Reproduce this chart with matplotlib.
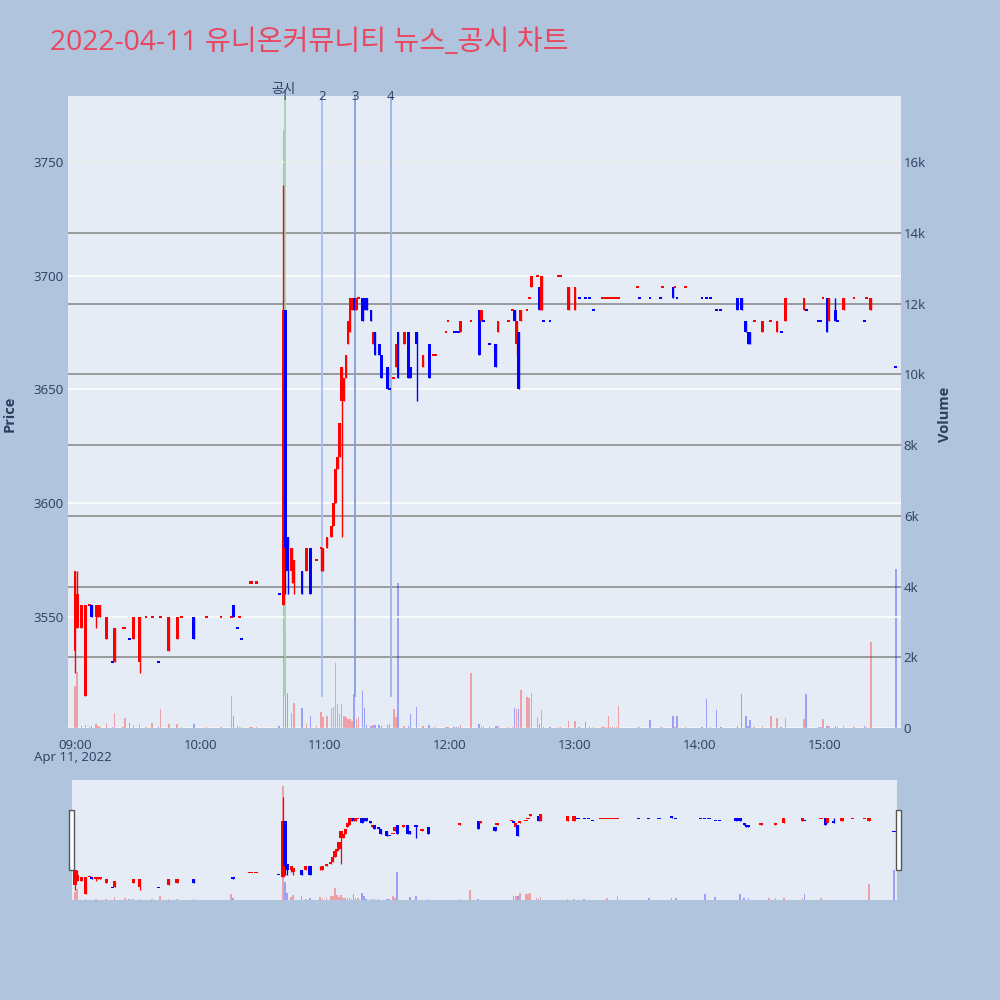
import matplotlib
matplotlib.use("Agg")
import matplotlib.pyplot as plt
from matplotlib.patches import Rectangle
import numpy as np

plt.rcParams["font.family"] = ["Open Sans", "Noto Sans CJK KR", "DejaVu Sans"]

# minute candles, 2022-04-11
times = ["09:00", "09:01", "09:03", "09:05", "09:07", "09:08", "09:10", "09:11", "09:12", "09:15",
         "09:18", "09:19", "09:23", "09:24", "09:26", "09:28", "09:31", "09:34", "09:37", "09:40",
         "09:41", "09:45", "09:49", "09:51", "09:57", "10:03", "10:10", "10:15", "10:16", "10:18",
         "10:19", "10:20", "10:24", "10:25", "10:27", "10:38", "10:40", "10:41", "10:42", "10:44",
         "10:45", "10:49", "10:51", "10:53", "10:56", "10:58", "10:59", "11:01", "11:03", "11:04",
         "11:05", "11:06", "11:07", "11:08", "11:09", "11:10", "11:11", "11:12", "11:13", "11:14",
         "11:15", "11:16", "11:18", "11:19", "11:20", "11:22", "11:23", "11:24", "11:26", "11:27",
         "11:30", "11:31", "11:33", "11:34", "11:35", "11:38", "11:40", "11:41", "11:44", "11:47",
         "11:50", "11:52", "11:53", "11:58", "11:59", "12:02", "12:03", "12:04", "12:05", "12:10",
         "12:14", "12:15", "12:16", "12:19", "12:22", "12:23", "12:28", "12:30", "12:31", "12:32",
         "12:33", "12:34", "12:37", "12:38", "12:39", "12:42", "12:43", "12:44", "12:45", "12:48",
         "12:52", "12:53", "12:57", "13:00", "13:02", "13:05", "13:07", "13:09", "13:13", "13:14",
         "13:15", "13:16", "13:17", "13:18", "13:19", "13:20", "13:21", "13:30", "13:31", "13:36",
         "13:41", "13:42", "13:47", "13:48", "13:49", "13:53", "14:01", "14:03", "14:05", "14:08",
         "14:10", "14:18", "14:20", "14:22", "14:23", "14:24", "14:26", "14:30", "14:34", "14:37",
         "14:39", "14:41", "14:50", "14:51", "14:57", "14:58", "14:59", "15:01", "15:02", "15:05",
         "15:06", "15:09", "15:14", "15:19", "15:20", "15:22", "15:34"]
opens = [3535, 3545, 3545, 3515, 3555, 3555, 3550, 3550, 3550, 3540,
         3530, 3530, 3545, 3545, 3540, 3540, 3530, 3550, 3550, 3530,
         3550, 3535, 3540, 3550, 3550, 3550, 3550, 3550, 3555, 3545,
         3550, 3540, 3565, 3565, 3565, 3560, 3555, 3685, 3585, 3570,
         3565, 3570, 3570, 3580, 3575, 3580, 3570, 3580, 3585, 3590,
         3600, 3615, 3620, 3645, 3645, 3655, 3670, 3675, 3685, 3690,
         3685, 3690, 3690, 3690, 3690, 3685, 3670, 3675, 3670, 3665,
         3660, 3650, 3655, 3660, 3675, 3670, 3675, 3660, 3675, 3660,
         3670, 3665, 3665, 3675, 3680, 3675, 3675, 3675, 3675, 3680,
         3685, 3680, 3680, 3670, 3670, 3675, 3680, 3685, 3685, 3670,
         3675, 3680, 3685, 3690, 3695, 3700, 3695, 3685, 3680, 3680,
         3700, 3700, 3685, 3685, 3690, 3690, 3690, 3685, 3690, 3690,
         3690, 3690, 3690, 3690, 3690, 3690, 3690, 3695, 3690, 3690,
         3690, 3695, 3695, 3695, 3690, 3695, 3690, 3690, 3690, 3685,
         3685, 3690, 3690, 3680, 3675, 3675, 3680, 3675, 3680, 3675,
         3675, 3680, 3685, 3685, 3680, 3680, 3690, 3690, 3680, 3685,
         3680, 3685, 3690, 3680, 3690, 3685, 3660]
highs = [3570, 3570, 3555, 3555, 3555, 3555, 3555, 3555, 3555, 3550,
         3530, 3545, 3545, 3545, 3540, 3550, 3550, 3550, 3550, 3530,
         3550, 3550, 3550, 3550, 3550, 3550, 3550, 3550, 3555, 3545,
         3550, 3540, 3565, 3565, 3565, 3560, 3740, 3685, 3585, 3580,
         3575, 3570, 3580, 3580, 3575, 3580, 3580, 3585, 3590, 3600,
         3615, 3620, 3635, 3660, 3655, 3665, 3680, 3690, 3690, 3690,
         3690, 3690, 3690, 3690, 3690, 3685, 3675, 3675, 3670, 3665,
         3660, 3650, 3655, 3670, 3675, 3675, 3675, 3660, 3675, 3665,
         3670, 3665, 3665, 3675, 3680, 3675, 3675, 3675, 3680, 3680,
         3685, 3685, 3680, 3670, 3670, 3680, 3680, 3685, 3685, 3680,
         3675, 3685, 3685, 3690, 3700, 3700, 3695, 3700, 3680, 3680,
         3700, 3700, 3695, 3695, 3690, 3690, 3690, 3685, 3690, 3690,
         3690, 3690, 3690, 3690, 3690, 3690, 3690, 3695, 3690, 3690,
         3690, 3695, 3695, 3695, 3690, 3695, 3690, 3690, 3690, 3685,
         3685, 3690, 3690, 3680, 3675, 3675, 3680, 3680, 3680, 3680,
         3675, 3690, 3690, 3685, 3680, 3680, 3690, 3690, 3690, 3690,
         3680, 3690, 3690, 3680, 3690, 3690, 3660]
lows = [3525, 3545, 3545, 3515, 3555, 3550, 3545, 3550, 3550, 3540,
        3530, 3530, 3545, 3545, 3540, 3540, 3525, 3550, 3550, 3530,
        3550, 3535, 3540, 3550, 3540, 3550, 3550, 3550, 3550, 3545,
        3550, 3540, 3565, 3565, 3565, 3560, 3555, 3560, 3560, 3565,
        3560, 3560, 3570, 3560, 3575, 3570, 3570, 3580, 3585, 3590,
        3600, 3615, 3620, 3585, 3645, 3655, 3670, 3675, 3685, 3685,
        3685, 3690, 3680, 3685, 3685, 3680, 3670, 3665, 3665, 3655,
        3650, 3650, 3655, 3660, 3655, 3670, 3655, 3655, 3645, 3660,
        3655, 3665, 3665, 3675, 3680, 3675, 3675, 3675, 3675, 3680,
        3665, 3680, 3680, 3670, 3660, 3675, 3680, 3685, 3680, 3665,
        3650, 3680, 3685, 3690, 3695, 3700, 3685, 3685, 3680, 3680,
        3700, 3700, 3685, 3685, 3690, 3690, 3690, 3685, 3690, 3690,
        3690, 3690, 3690, 3690, 3690, 3690, 3690, 3695, 3690, 3690,
        3690, 3695, 3690, 3695, 3690, 3695, 3690, 3690, 3690, 3685,
        3685, 3685, 3685, 3675, 3670, 3670, 3680, 3675, 3680, 3675,
        3675, 3680, 3685, 3685, 3680, 3680, 3690, 3675, 3680, 3680,
        3680, 3685, 3690, 3680, 3690, 3685, 3660]
closes = [3570, 3560, 3555, 3555, 3555, 3550, 3555, 3555, 3555, 3550,
          3530, 3545, 3545, 3545, 3540, 3550, 3550, 3550, 3550, 3530,
          3550, 3550, 3550, 3550, 3540, 3550, 3550, 3550, 3550, 3545,
          3550, 3540, 3565, 3565, 3565, 3560, 3685, 3580, 3570, 3580,
          3575, 3560, 3580, 3560, 3575, 3580, 3580, 3585, 3590, 3600,
          3615, 3620, 3635, 3660, 3655, 3665, 3680, 3690, 3690, 3685,
          3690, 3690, 3680, 3685, 3685, 3680, 3675, 3665, 3665, 3655,
          3650, 3650, 3655, 3670, 3655, 3675, 3655, 3655, 3670, 3665,
          3655, 3665, 3665, 3675, 3680, 3675, 3675, 3675, 3680, 3680,
          3665, 3685, 3680, 3670, 3660, 3680, 3680, 3685, 3680, 3680,
          3650, 3685, 3685, 3690, 3700, 3700, 3685, 3700, 3680, 3680,
          3700, 3700, 3695, 3695, 3690, 3690, 3690, 3685, 3690, 3690,
          3690, 3690, 3690, 3690, 3690, 3690, 3690, 3695, 3690, 3690,
          3690, 3695, 3690, 3695, 3690, 3695, 3690, 3690, 3690, 3685,
          3685, 3685, 3685, 3675, 3670, 3670, 3680, 3680, 3680, 3680,
          3675, 3690, 3690, 3685, 3680, 3680, 3690, 3675, 3690, 3680,
          3680, 3690, 3690, 3680, 3690, 3690, 3660]
volumes = [1190, 1580, 60, 80, 30, 50, 100, 60, 40, 140,
           40, 430, 30, 280, 150, 90, 100, 40, 130, 20,
           530, 120, 100, 30, 120, 30, 40, 900, 350, 50,
           30, 40, 30, 30, 30, 60, 16900, 2700, 1000, 420,
           700, 560, 120, 350, 60, 450, 300, 350, 560, 580,
           1830, 680, 400, 680, 350, 300, 250, 250, 200, 960,
           250, 300, 1050, 560, 80, 50, 80, 90, 80, 70,
           90, 100, 530, 300, 4100, 60, 50, 400, 580, 60,
           90, 30, 30, 40, 30, 40, 30, 30, 80, 1550,
           120, 60, 30, 30, 60, 50, 40, 30, 560, 530,
           530, 1070, 880, 850, 1000, 300, 100, 500, 40, 30,
           40, 30, 200, 200, 30, 180, 30, 40, 30, 30,
           30, 330, 30, 30, 30, 30, 620, 30, 30, 230,
           30, 30, 330, 30, 330, 30, 30, 820, 30, 500,
           30, 60, 960, 330, 60, 240, 30, 50, 330, 280,
           30, 280, 260, 960, 30, 30, 260, 60, 50, 50,
           30, 60, 30, 50, 30, 2430, 4500]

notice_times = ["10:40", "10:58", "11:14", "11:31"]
notice_labels = ["1", "2", "3", "4"]
notice_colors = ["#9fd6a8", "#a9bcf4", "#8a9ed9", "#9cb0ea"]

minutes = np.array([int(t[:2]) * 60 + int(t[3:]) - 540 for t in times], dtype=float)
o = np.array(opens, float)
h = np.array(highs, float)
l = np.array(lows, float)
c = np.array(closes, float)
v = np.array(volumes, float)

# red = up, blue = down; flat candle keeps direction vs previous close
up = []
prev_c, prev_up = None, True
for oo, cc in zip(o, c):
    if cc > oo:
        u = True
    elif cc < oo:
        u = False
    elif prev_c is None or cc == prev_c:
        u = prev_up
    else:
        u = cc > prev_c
    up.append(u)
    prev_c, prev_up = cc, u
up = np.array(up)
cols = np.where(up, "#ff0000", "#0000ff")

notice_min = [int(t[:2]) * 60 + int(t[3:]) - 540 + 0.6 for t in notice_times]

BG = "#e5ecf6"
PAPER = "#b0c4de"
TXT = "#2a3f5f"
PRICE_LIM = (3501, 3779)
VOL_LIM = (0, 17866)


def draw(ax_vol, ax_p, body_w=1.3, wick_lw=1.0, vol_w=0.7):
    ax_vol.bar(minutes, v, width=vol_w, color=cols, alpha=0.32, linewidth=0, zorder=2)
    ax_p.vlines(minutes, l, h, colors=cols, linewidth=wick_lw, zorder=4)
    bh = np.maximum(np.abs(c - o), 0.9)
    bb = np.where(np.abs(c - o) > 0, np.minimum(o, c), o - 0.45)
    ax_p.bar(minutes, bh, bottom=bb, width=body_w, color=cols, linewidth=0, zorder=5)


fig = plt.figure(figsize=(10, 10), dpi=100)
fig.patch.set_facecolor(PAPER)

# main panel
ax_vol = fig.add_axes([0.068, 0.272, 0.833, 0.632])
ax_vol.set_facecolor(BG)
ax_p = ax_vol.twinx()
draw(ax_vol, ax_p)

ax_vol.set_xlim(-3.4, 396.5)
ax_vol.set_ylim(*VOL_LIM)
ax_p.set_ylim(*PRICE_LIM)

for s in list(ax_vol.spines.values()) + list(ax_p.spines.values()):
    s.set_visible(False)

ax_vol.yaxis.tick_right()
ax_vol.set_yticks(np.arange(0, 16001, 2000))
ax_vol.set_yticklabels(["0"] + ["%dk" % k for k in range(2, 17, 2)])
ax_vol.grid(axis="y", color="#8c8c8c", linewidth=1.2)
ax_vol.set_axisbelow(True)
ax_vol.axhline(0, color="white", linewidth=2, zorder=1)

ax_p.yaxis.tick_left()
ax_p.set_yticks([3550, 3600, 3650, 3700, 3750])
ax_p.grid(axis="y", color="white", linewidth=1.2, zorder=0)

ax_vol.set_xticks(np.arange(0, 361, 60))
ax_vol.set_xticklabels(["%02d:00" % hh for hh in range(9, 16)])
ax_vol.grid(axis="x", visible=False)

for a in (ax_vol, ax_p):
    a.tick_params(length=0, labelsize=9.5, labelcolor=TXT)
ax_vol.tick_params(axis="x", pad=8)
ax_vol.tick_params(axis="y", pad=2)
ax_p.tick_params(axis="y", pad=3)

fig.text(0.010, 0.586, "Price", rotation=90, ha="center", va="center",
         fontsize=10.5, fontweight="bold", color=TXT)
fig.text(0.945, 0.586, "Volume", rotation=90, ha="center", va="center",
         fontsize=10.5, fontweight="bold", color=TXT)

fig.text(0.073, 1 - 0.757, "Apr 11, 2022", ha="center", va="center", fontsize=9.5, color=TXT)

# disclosure markers
span = PRICE_LIM[1] - PRICE_LIM[0]
for m, lab, col in zip(notice_min, notice_labels, notice_colors):
    ax_p.axvline(m, ymin=(3515 - PRICE_LIM[0]) / span, ymax=1, color=col,
                 linewidth=1.3, zorder=3)
    ax_p.text(m, 1.0, lab, transform=ax_p.get_xaxis_transform(), ha="center",
              va="center", fontsize=9.5, color=TXT, zorder=6, clip_on=False)
ax_p.text(notice_min[0] - 0.6, 1.011, "공시", transform=ax_p.get_xaxis_transform(),
          ha="center", va="center", fontsize=9.5, color=TXT, clip_on=False)

fig.text(0.05, 1 - 0.043, "2022-04-11 유니온커뮤니티 뉴스_공시 차트", ha="left", va="center",
         fontsize=20.3, color="#e8475f")

# range slider
ax_s = fig.add_axes([0.072, 0.100, 0.825, 0.120])
ax_s.set_facecolor(BG)
ax_sp = ax_s.twinx()
draw(ax_s, ax_sp, body_w=1.6, wick_lw=0.9, vol_w=0.8)
ax_s.set_xlim(-1.5, 395.5)
ax_s.set_ylim(*VOL_LIM)
ax_sp.set_ylim(*PRICE_LIM)
for a in (ax_s, ax_sp):
    a.set_xticks([])
    a.set_yticks([])
    for s in a.spines.values():
        s.set_visible(False)

for hx in (0.0685, 0.8955):
    fig.patches.append(Rectangle((hx, 1 - 0.870), 0.005, 0.060, transform=fig.transFigure,
                                 facecolor="white", edgecolor="#555555", linewidth=1, zorder=10))

fig.savefig("out.png", dpi=100, facecolor=PAPER)
